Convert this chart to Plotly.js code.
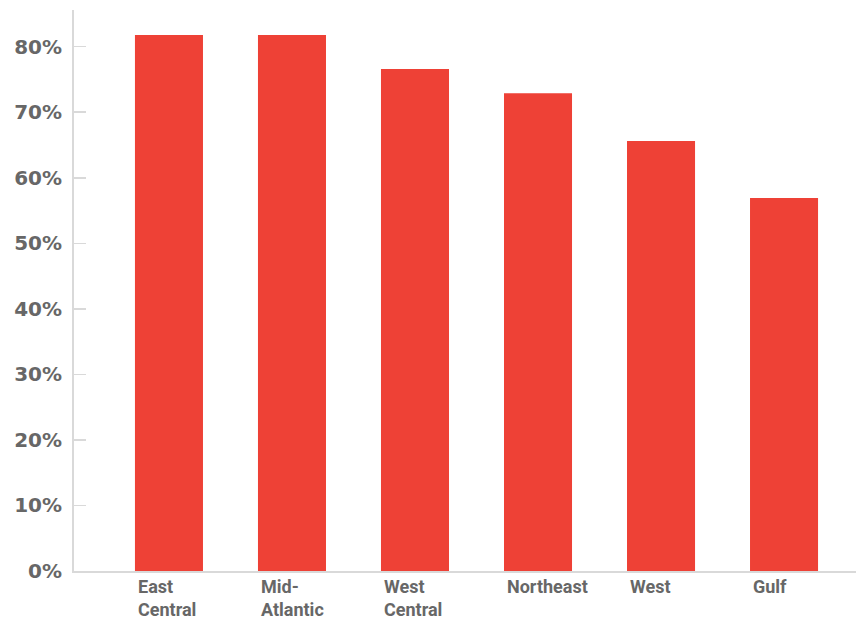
<!DOCTYPE html>
<html>
<head>
<meta charset="utf-8">
<script src="https://cdn.plot.ly/plotly-3.0.1.min.js"></script>
<style>html,body{margin:0;padding:0;background:#fff;}#chart{width:856px;height:621px;}</style>
</head>
<body>
<div id="chart"></div>
<script>
var categories = ["East Central", "Mid-Atlantic", "West Central", "Northeast", "West", "Gulf"];
var labelText = ["East<br>Central", "Mid-<br>Atlantic", "West<br>Central", "Northeast", "West", "Gulf"];
var values = [81.8, 81.8, 76.6, 72.9, 65.6, 56.9];
var yTicks = [0, 10, 20, 30, 40, 50, 60, 70, 80];
var yTickText = ["0%", "10%", "20%", "30%", "40%", "50%", "60%", "70%", "80%"];

var labelFont = "Roboto, 'Open Sans', sans-serif";
var tickFont = "'DejaVu Sans', sans-serif";
var grey = "#676767";

var trace = {
  type: "bar",
  x: categories,
  y: values,
  width: 0.553,
  marker: {color: "#ee4136"},
  hoverinfo: "x+y"
};

var annotations = categories.map(function(c, i) {
  return {
    xref: "x", yref: "paper",
    x: c, y: 0,
    xanchor: "left", yanchor: "top",
    xshift: -33, yshift: -3,
    align: "left",
    showarrow: false,
    text: labelText[i],
    font: {family: labelFont, size: 18, color: grey, weight: 700}
  };
});

var layout = {
  width: 856, height: 621,
  margin: {l: 74, r: 0, t: 10, b: 50},
  paper_bgcolor: "#ffffff",
  plot_bgcolor: "#ffffff",
  showlegend: false,
  xaxis: {
    type: "category",
    range: [-0.772, 5.585],
    showticklabels: false,
    ticks: "",
    showgrid: false,
    zeroline: false,
    showline: true,
    linecolor: "#d9d9d9",
    linewidth: 2,
    fixedrange: true
  },
  yaxis: {
    range: [0, 85.6],
    tickvals: yTicks,
    ticktext: yTickText,
    ticks: "inside",
    ticklen: 12,
    tickwidth: 1.5,
    tickcolor: "#d9d9d9",
    showgrid: false,
    zeroline: false,
    showline: true,
    linecolor: "#d9d9d9",
    linewidth: 2,
    ticklabelstandoff: 6,
    tickfont: {family: tickFont, size: 20, color: grey, weight: 700},
    fixedrange: true
  },
  annotations: annotations
};

Plotly.newPlot("chart", [trace], layout, {displayModeBar: false, staticPlot: true});
</script>
</body>
</html>
